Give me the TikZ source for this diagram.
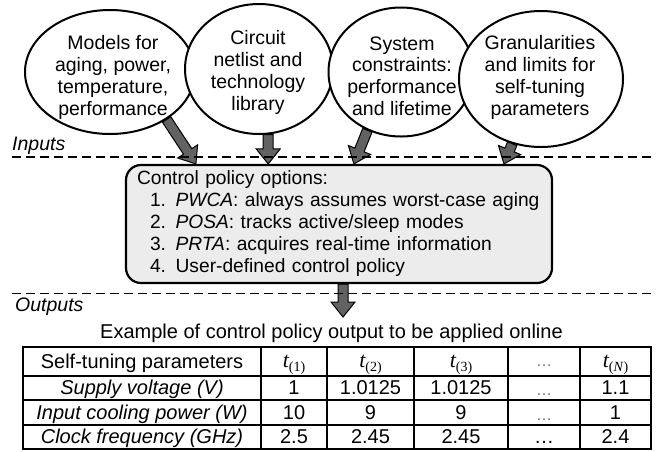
\RequirePackage{fix-cm}
\documentclass[tikz,border=0pt]{standalone}
\usepackage[no-math]{fontspec}
\setmainfont{Liberation Sans}
\newfontfamily\serifface{Liberation Serif}
\usetikzlibrary{shapes.geometric,calc,backgrounds}
\definecolor{arrowgray}{RGB}{98,98,98}
\definecolor{boxgray}{RGB}{236,236,236}
\definecolor{dotgray}{RGB}{110,110,110}
\tikzset{
  ell/.style={ellipse, draw=black, line width=2pt, fill=white, inner sep=0pt},
  elltext/.style={align=center, inner sep=0pt, font=\fontsize{19.5}{21.7}\selectfont},
  sepline/.style={dash pattern=on 9pt off 5pt, line width=1.8pt},
  outergrid/.style={line width=2.8pt},
  innergrid/.style={line width=2.2pt},
  cell/.style={anchor=base, inner sep=0pt, font=\fontsize{20}{22}\selectfont},
  fatarr/.style={draw=black, fill=arrowgray, line width=1pt, line join=miter},
  sidelabel/.style={anchor=base west, inner sep=0pt, font=\itshape\fontsize{19.5}{22}\selectfont},
}
\newcommand\tsub[1]{{\serifface\itshape\fontsize{22}{22}\selectfont t}\raisebox{-4pt}{\serifface\fontsize{14}{14}\selectfont (#1)}}
\newcommand\fatarrow[2]{%
  \draw[fatarr] let \p1=#1, \p2=#2, \n1={atan2(\y2-\y1,\x2-\x1)} in
    ($(\p1)+({\n1+90}:5pt)$)
    -- ($(\p2)+({\n1+180}:15pt)+({\n1+90}:5pt)$)
    -- ($(\p2)+({\n1+180}:15pt)+({\n1+90}:12pt)$)
    -- (\p2)
    -- ($(\p2)+({\n1+180}:15pt)+({\n1-90}:12pt)$)
    -- ($(\p2)+({\n1+180}:15pt)+({\n1-90}:5pt)$)
    -- ($(\p1)+({\n1-90}:5pt)$) -- cycle;}
\begin{document}
\begin{tikzpicture}[x=1pt,y=-1pt]
\useasboundingbox (0,0) rectangle (656,451);

% input ellipses
\node[ell, minimum width=170pt, minimum height=124pt] (e1) at (110,72) {};
\node[ell, minimum width=148pt, minimum height=130pt] (e2) at (259,69) {};
\node[ell, minimum width=145pt, minimum height=129pt] (e3) at (401,72) {};
\node[ell, minimum width=164pt, minimum height=136pt] (e4) at (541,79) {};
\node[elltext] (t1) at (113,77.5) {Models for\\aging, power,\\temperature,\\performance};
\node[elltext] (t2) at (258,72.5) {Circuit\\netlist and\\technology\\library};
\node[elltext] (t3) at (402,76) {System\\constraints:\\performance\\and lifetime};
\node[elltext] (t4) at (540,77.5) {Granularities\\and limits for\\self-tuning\\parameters};

% control policy box
\node[draw=black, line width=2.2pt, rounded corners=15pt, fill=boxgray,
      minimum width=426pt, minimum height=118pt, inner xsep=11pt, inner ysep=0pt,
      text width=404pt, align=left, font=\fontsize{19.2}{22}\selectfont] (box) at (339,224)
  {\mbox{Control policy options:}\\
   \mbox{\hspace*{13pt}1. \textit{PWCA}: always assumes worst-case aging}\\
   \mbox{\hspace*{13pt}2. \textit{POSA}: tracks active/sleep modes}\\
   \mbox{\hspace*{13pt}3. \textit{PRTA}: acquires real-time information}\\
   \mbox{\hspace*{13pt}4. User-defined control policy}};

\coordinate (b1) at ($(box.north west)+(71,0)$);
\coordinate (b3) at ($(box.north west)+(229,0)$);
\coordinate (b4) at ($(box.north west)+(379,0)$);
\coordinate (outstart) at ($(box.south)+(4,0)$);
\coordinate (outtip) at (343,317);

\begin{pgfonlayer}{background}
  \fatarrow{(e1.-40)}{(b1)}
  \fatarrow{(e2.-82)}{(e2.-82 |- box.north)}
  \fatarrow{(e3.-120)}{(b3)}
  \fatarrow{(e4.-114)}{(b4)}
  \fatarrow{(outstart)}{(outtip)}
\end{pgfonlayer}

% separators
\draw[sepline] (12,157) -- (656,157);
\draw[sepline] (12,293.5) -- (656,293.5);
\node[sidelabel] (inlab) at (12,150) {Inputs};
\node[sidelabel] (outlab) at (15,311) {Outputs};

% caption
\node[cell] (cap) at (331.5,338) {Example of control policy output to be applied online};

% table grid
\draw[innergrid] (23,376) -- (651,376);
\draw[innergrid] (23,400) -- (651,400);
\draw[innergrid] (23,425) -- (651,425);
\foreach \xx in {261,327,414,508,580} {\draw[innergrid] (\xx,347) -- (\xx,449);}
\draw[outergrid] (23,347) rectangle (651,449);

% row 1
\node[cell] (r1c1) at (142,368.5) {Self-tuning parameters};
\node[cell] (r1c2) at (294,367.5) {\tsub{1}};
\node[cell] (r1c3) at (370.5,367.5) {\tsub{2}};
\node[cell] (r1c4) at (461,367.5) {\tsub{3}};
\node[cell] (r1c5) at (544,366) {\color{dotgray}\fontsize{16}{18}\selectfont …};
\node[cell] (r1c6) at (615.5,367.5) {\tsub{\textit{N}}};
% row 2
\node[cell] (r2c1) at (142,394.5) {\itshape Supply voltage (V)};
\node[cell] (r2c2) at (294,394.5) {1};
\node[cell] (r2c3) at (370.5,394.5) {1.0125};
\node[cell] (r2c4) at (461,394.5) {1.0125};
\node[cell] (r2c5) at (544,395.5) {\color{dotgray}\fontsize{16}{18}\selectfont …};
\node[cell] (r2c6) at (615.5,394.5) {1.1};
% row 3
\node[cell] (r3c1) at (142,419) {\itshape Input cooling power (W)};
\node[cell] (r3c2) at (294,419) {10};
\node[cell] (r3c3) at (370.5,419) {9};
\node[cell] (r3c4) at (461,419) {9};
\node[cell] (r3c5) at (544,420) {\color{dotgray}\fontsize{16}{18}\selectfont …};
\node[cell] (r3c6) at (615.5,419) {1};
% row 4
\node[cell] (r4c1) at (142,443.5) {\itshape Clock frequency (GHz)};
\node[cell] (r4c2) at (294,443.5) {2.5};
\node[cell] (r4c3) at (370.5,443.5) {2.45};
\node[cell] (r4c4) at (461,443.5) {2.45};
\node[cell] (r4c5) at (544,443.5) {…};
\node[cell] (r4c6) at (615.5,443.5) {2.4};
\end{tikzpicture}
\end{document}
